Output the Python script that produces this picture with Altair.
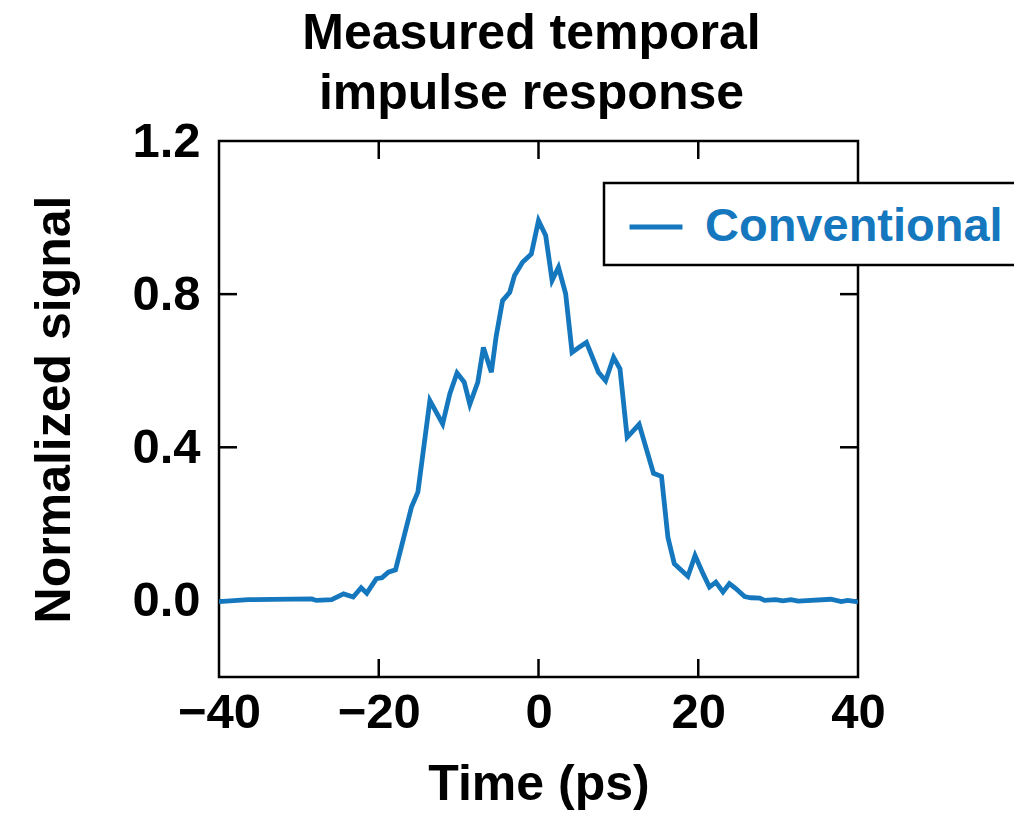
import altair as alt
import pandas as pd

# ---- data ----
time_ps = [-40, -36.3, -28.4, -27.8, -25.9, -24.4, -23.2, -22.2, -21.5, -20.3,
           -19.6, -18.8, -17.9, -15.9, -15.1, -13.6, -12.0, -11.1, -10.2, -9.3,
           -8.6, -7.6, -6.9, -5.9, -5.3, -4.5, -3.6, -3.0, -2.0, -0.9,
           0.0, 0.9, 1.7, 2.5, 3.4, 4.2, 5.0, 6.0, 7.5, 8.4,
           9.4, 10.2, 11.1, 12.6, 14.4, 15.4, 16.2, 17.0, 18.7, 19.6,
           20.6, 21.4, 22.2, 23.1, 23.9, 24.7, 25.8, 26.6, 27.7, 28.3,
           29.7, 30.6, 31.6, 32.5, 36.6, 37.9, 38.7, 40]
signal = [-0.003, 0.002, 0.004, 0.0, 0.002, 0.017, 0.009, 0.033, 0.019, 0.057,
          0.059, 0.074, 0.080, 0.244, 0.283, 0.522, 0.461, 0.540, 0.594, 0.570,
          0.512, 0.570, 0.661, 0.596, 0.690, 0.783, 0.805, 0.849, 0.883, 0.905,
          0.992, 0.953, 0.836, 0.870, 0.801, 0.648, 0.660, 0.674, 0.596, 0.574,
          0.635, 0.605, 0.426, 0.460, 0.332, 0.324, 0.165, 0.096, 0.063, 0.117,
          0.070, 0.035, 0.048, 0.022, 0.044, 0.031, 0.010, 0.007, 0.006, 0.0,
          0.002, -0.001, 0.002, -0.002, 0.003, -0.003, 0.0, -0.004]
series_name = "Conventional"

x_ticks = [-40, -20, 0, 20, 40]
y_ticks = [0.0, 0.4, 0.8, 1.2]
x_domain = [-40, 40]
y_domain = [-0.2, 1.2]

# ---- layout constants ----
W, H = 639, 536
TICK_PX = 18
FONT = "Liberation Sans"
BLUE = "#1577bd"

df = pd.DataFrame({"t": time_ps, "v": signal, "s": [series_name] * len(time_ps)})

dx = TICK_PX / W * (x_domain[1] - x_domain[0])
dy = TICK_PX / H * (y_domain[1] - y_domain[0])

inner_x = [t for t in x_ticks if x_domain[0] < t < x_domain[1]]
inner_y = [v for v in y_ticks if y_domain[0] < v < y_domain[1]]

tick_rows = []
for t in inner_x:
    tick_rows.append({"x": t, "x2": t, "y": y_domain[0], "y2": y_domain[0] + dy})
    tick_rows.append({"x": t, "x2": t, "y": y_domain[1] - dy, "y2": y_domain[1]})
for v in inner_y:
    tick_rows.append({"x": x_domain[0], "x2": x_domain[0] + dx, "y": v, "y2": v})
    tick_rows.append({"x": x_domain[1] - dx, "x2": x_domain[1], "y": v, "y2": v})
ticks_df = pd.DataFrame(tick_rows)

xscale = alt.Scale(domain=x_domain, nice=False, zero=False)
yscale = alt.Scale(domain=y_domain, nice=False, zero=False)

line = alt.Chart(df).mark_line(strokeWidth=4.8, clip=True).encode(
    x=alt.X("t:Q", scale=xscale,
            axis=alt.Axis(values=x_ticks, title="Time (ps)", ticks=False, domain=False,
                          grid=False, labelFontSize=49, labelFont=FONT, labelFontWeight="bold",
                          labelColor="black", labelPadding=11, titleFontSize=50,
                          titleFont=FONT, titleFontWeight="bold", titleColor="black",
                          titlePadding=22, labelFlush=False)),
    y=alt.Y("v:Q", scale=yscale,
            axis=alt.Axis(values=y_ticks, format=".1f", title="Normalized signal",
                          ticks=False, domain=False, grid=False, labelFontSize=49,
                          labelFont=FONT, labelFontWeight="bold", labelColor="black",
                          labelPadding=19, titleFontSize=50, titleFont=FONT,
                          titleFontWeight="bold", titleColor="black", titlePadding=52,
                          labelFlush=False)),
    color=alt.Color("s:N", scale=alt.Scale(range=[BLUE]), title=None,
                    legend=alt.Legend(orient="none", legendX=385, legendY=42,
                                      symbolType="stroke", symbolSize=2800,
                                      symbolStrokeWidth=4.8, labelFontSize=47,
                                      labelFont=FONT, labelFontWeight="bold",
                                      labelColor=BLUE, padding=15, labelOffset=20,
                                      symbolOffset=8,
                                      strokeColor="black", fillColor="white",
                                      cornerRadius=0, labelLimit=600)),
)

tick_marks = alt.Chart(ticks_df).mark_rule(color="black", strokeWidth=2.5).encode(
    x=alt.X("x:Q", scale=xscale), x2="x2:Q",
    y=alt.Y("y:Q", scale=yscale), y2="y2:Q",
)

chart = alt.layer(tick_marks, line).properties(
    width=W, height=H,
    title=alt.TitleParams(["Measured temporal", "impulse response"], fontSize=50,
                          font=FONT, fontWeight="bold", color="black",
                          lineHeight=60, anchor="middle", offset=-2, dx=-7),
    autosize=alt.AutoSizeParams(type="none"),
    padding={"left": 219, "top": 141, "right": 1014 - 219 - W, "bottom": 814 - 141 - H},
).configure(
    background="white",
    view=alt.ViewConfig(stroke="black", strokeWidth=2.5),
    legend=alt.LegendConfig(strokeWidth=2.5),
)

chart.save("out.html", embed_options={"renderer": "svg", "actions": False})
